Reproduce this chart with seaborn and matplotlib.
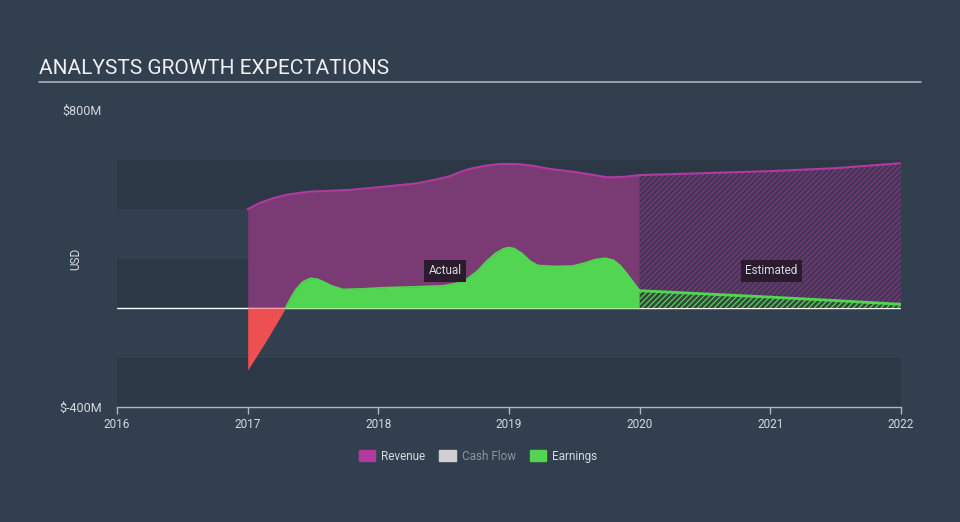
import matplotlib
matplotlib.use("Agg")
import pandas as pd
import matplotlib.pyplot as plt
import seaborn as sns
from matplotlib.patches import Patch
from matplotlib.lines import Line2D

# Revenue ($M), actual and analyst estimates
rev_years = [2017.0, 2017.09, 2017.19, 2017.3, 2017.47, 2017.78, 2018.04, 2018.3, 2018.45,
             2018.55, 2018.63, 2018.7, 2018.82, 2018.93, 2019.06, 2019.18, 2019.31, 2019.5,
             2019.62, 2019.75, 2019.88, 2020.0]
rev_vals = [399, 424, 443, 458, 470, 477, 490, 504, 520, 533, 550, 562, 575, 582, 582, 575,
            562, 550, 540, 528, 530, 537]
rev_est_years = [2020.0, 2020.5, 2021.0, 2021.5, 2022.0]
rev_est_vals = [537, 545, 553, 565, 585]

# Earnings ($M)
earn_years = [2017.0, 2017.15, 2017.29, 2017.33, 2017.37, 2017.42, 2017.48, 2017.53, 2017.58,
              2017.64, 2017.73, 2017.9, 2018.04, 2018.3, 2018.5, 2018.6, 2018.68, 2018.76,
              2018.83, 2018.9, 2018.96, 2019.0, 2019.04, 2019.1, 2019.16, 2019.22, 2019.35,
              2019.49, 2019.58, 2019.66, 2019.74, 2019.8, 2019.85, 2019.9, 2019.95, 2020.0]
earn_vals = [-251, -125, 0, 40, 75, 105, 120, 117, 106, 90, 75, 78, 82, 86, 90, 100, 118, 150,
             190, 222, 240, 244, 240, 220, 190, 172, 168, 170, 182, 196, 201, 193, 172, 140,
             105, 70]
earn_est_years = [2020.0, 2020.5, 2021.0, 2021.5, 2022.0]
earn_est_vals = [70, 57, 44, 30, 15]

year_ticks = [2016, 2017, 2018, 2019, 2020, 2021, 2022]

bg = "#323f4f"
band = "#2c3846"
rev_fill = "#7a3a73"
rev_line = "#b23a9f"
green = "#52d652"
red = "#ec5050"
txt = "#d6dadf"

sns.set_theme(style="dark")
plt.rcParams["font.family"] = ["Roboto", "DejaVu Sans"]
plt.rcParams["hatch.linewidth"] = 0.9

rev = pd.DataFrame({"year": rev_years, "value": rev_vals})
rev_est = pd.DataFrame({"year": rev_est_years, "value": rev_est_vals})
earn = pd.DataFrame({"year": earn_years, "value": earn_vals})
earn_est = pd.DataFrame({"year": earn_est_years, "value": earn_est_vals})

fig = plt.figure(figsize=(9.6, 5.22), dpi=100, facecolor=bg)
ax = fig.add_axes([117 / 960, 1 - 407 / 522, (901 - 117) / 960, (407 - 110) / 522])
ax.set_facecolor(bg)

# background bands
for lo in [-400, 0, 400]:
    ax.axhspan(lo, lo + 200, color=band, lw=0, zorder=0)

# revenue
ax.fill_between(rev["year"], 0, rev["value"], color=rev_fill, lw=0, zorder=1)
ax.fill_between(rev_est["year"], 0, rev_est["value"], facecolor="#46355a",
                edgecolor=rev_fill, hatch="//////", lw=0, zorder=1)
sns.lineplot(data=rev, x="year", y="value", color=rev_line, lw=1.5, ax=ax, zorder=2)
sns.lineplot(data=rev_est, x="year", y="value", color=rev_line, lw=1.5, ax=ax, zorder=2)

# earnings
ax.fill_between(earn["year"], 0, earn["value"], where=earn["value"] >= 0,
                color=green, lw=0, zorder=3, interpolate=True)
ax.fill_between(earn["year"], 0, earn["value"], where=earn["value"] <= 0,
                color=red, lw=0, zorder=3, interpolate=True)
ax.fill_between(earn_est["year"], 0, earn_est["value"], facecolor="#35473f",
                edgecolor=green, hatch="//////", lw=0, zorder=3)
pos = earn[earn["value"] >= 0]
sns.lineplot(data=pos, x="year", y="value", color=green, lw=1.2, ax=ax, zorder=4)
sns.lineplot(data=earn_est, x="year", y="value", color=green, lw=2, ax=ax, zorder=4)

ax.axhline(0, color="white", lw=1, zorder=2.5)

# labels
box = dict(boxstyle="square,pad=0.35", fc="#2a1b2e", ec="none")
ax.text(2018.51, 150, "Actual", color=txt, fontsize=8.5, ha="center", va="center", bbox=box, zorder=6)
ax.text(2021.01, 150, "Estimated", color=txt, fontsize=8.5, ha="center", va="center", bbox=box, zorder=6)

ax.set_xlim(2016, 2022)
ax.set_ylim(-400, 800)
ax.set_xticks(year_ticks)
ax.set_xticklabels([str(y) for y in year_ticks])
ax.set_yticks([-400, 800])
ax.set_yticklabels(["$-400M", "$800M"])
ax.tick_params(axis="x", colors="#aeb6bf", labelcolor=txt, labelsize=8.5,
               length=5, width=1, direction="out", pad=3, bottom=True)
ax.tick_params(axis="y", labelcolor=txt, labelsize=9, length=0, pad=11)
ax.set_xlabel("")
ax.set_ylabel("USD", color=txt, fontsize=8.5)
ax.yaxis.set_label_coords((82 - 117) / 784, 0.5)
ax.grid(False)
for s in ["top", "right", "left"]:
    ax.spines[s].set_visible(False)
ax.spines["bottom"].set_color("#aeb6bf")
ax.spines["bottom"].set_linewidth(1)

# title and underline
fig.text(39 / 960, 1 - 68 / 522, "ANALYSTS GROWTH EXPECTATIONS", color="#eef0f2",
         fontsize=15, ha="left", va="center")
fig.add_artist(Line2D([39 / 960, 921 / 960], [1 - 82 / 522, 1 - 82 / 522],
                      color="#a9b1ba", lw=1.2))

handles = [Patch(color="#b23a9f"), Patch(color="#cfcfcf"), Patch(color=green)]
leg = fig.legend(handles, ["Revenue", "Cash Flow", "Earnings"], loc="center",
                 bbox_to_anchor=(478 / 960, 1 - 456 / 522), ncol=3, frameon=False,
                 fontsize=8.5, handlelength=1.4, handleheight=1.0, handletextpad=0.5,
                 columnspacing=1.2)
for t, c in zip(leg.get_texts(), [txt, "#8b959f", txt]):
    t.set_color(c)

fig.savefig("out.png", dpi=100, facecolor=bg)
